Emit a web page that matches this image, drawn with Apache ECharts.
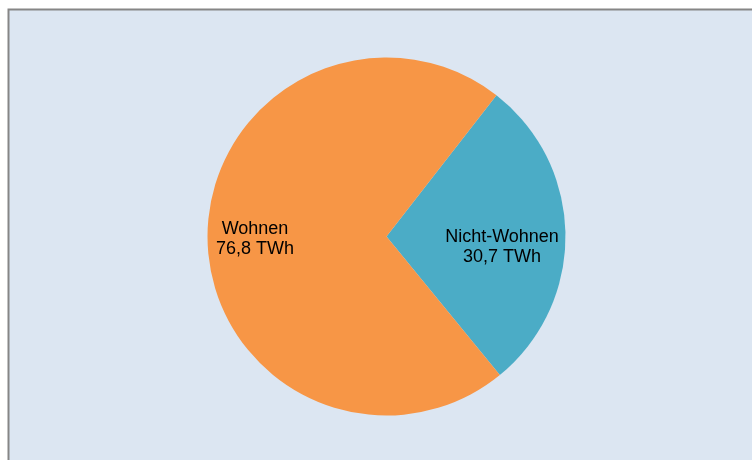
<!DOCTYPE html>
<html>
<head>
<meta charset="utf-8">
<script src="https://cdn.jsdelivr.net/npm/echarts@6/dist/echarts.min.js"></script>
<style>
html,body{margin:0;padding:0;background:#fff;}
#c{width:752px;height:460px;}
</style>
</head>
<body>
<div id="c"></div>
<script>
const categories = ['Nicht-Wohnen', 'Wohnen'];
const values = [30.7, 76.8];
const valueLabels = ['30,7 TWh', '76,8 TWh'];

const colors = ['#4BACC6', '#F79646'];
const offsets = [[23, 12], [-39, 1]];

const chart = echarts.init(document.getElementById('c'));
chart.setOption({
  backgroundColor: '#ffffff',
  animation: false,
  graphic: [{
    type: 'rect',
    shape: { x: 8.5, y: 9.5, width: 800, height: 500 },
    style: { fill: '#DCE6F2', stroke: '#868686', lineWidth: 2 },
    z: -10, silent: true
  }],
  series: [{
    type: 'pie',
    center: [386.5, 236.5],
    radius: [0, 179],
    startAngle: 52.1,
    clockwise: true,
    avoidLabelOverlap: false,
    itemStyle: { borderWidth: 0 },
    label: {
      show: true,
      position: 'inside',
      color: '#000',
      fontFamily: 'Liberation Sans, Arial, sans-serif',
      fontSize: 18,
      lineHeight: 20,
      align: 'center',
      formatter: p => p.name + '\n' + valueLabels[p.dataIndex]
    },
    labelLine: { show: false },
    emphasis: { disabled: true },
    data: categories.map((n, i) => ({
      name: n,
      value: values[i],
      itemStyle: { color: colors[i] },
      label: { offset: offsets[i] }
    }))
  }]
});
</script>
</body>
</html>
